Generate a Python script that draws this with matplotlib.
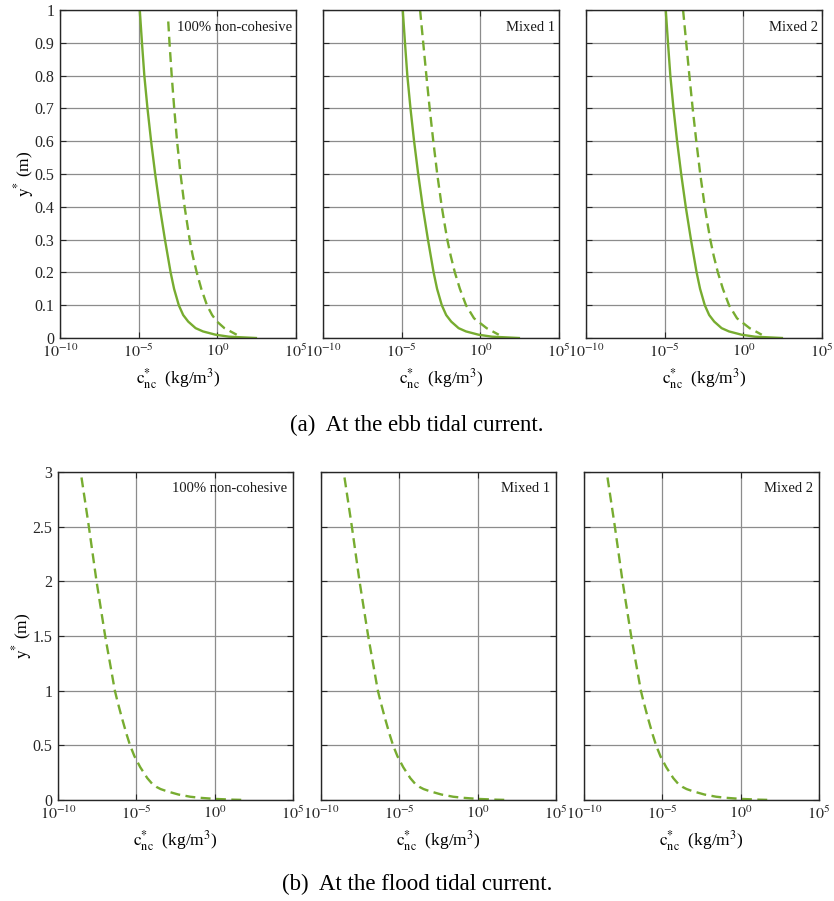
import numpy as np
import matplotlib
matplotlib.use("Agg")
import matplotlib.pyplot as plt

plt.rcParams['font.family'] = ['Liberation Serif', 'DejaVu Serif']
plt.rcParams['mathtext.fontset'] = 'stix'

### Concentration profiles, log10(c*) against height y*
# ebb tide, solid profile (same in all three panels)
ebb_y_solid = [1.0, 0.9, 0.8, 0.7, 0.6, 0.5, 0.4, 0.3, 0.2, 0.15, 0.1, 0.07, 0.05, 0.03,
               0.02, 0.01, 0.004, 0.0]
ebb_logc_solid = [-4.93, -4.79, -4.64, -4.44, -4.21, -3.95, -3.66, -3.33, -2.97, -2.75,
                  -2.45, -2.17, -1.85, -1.38, -0.91, -0.11, 0.74, 2.45]

# ebb tide, dashed profile for 100% non-cohesive
ebb_y_dash_a = [0.965, 0.9, 0.8, 0.7, 0.6, 0.5, 0.4, 0.3, 0.25, 0.2, 0.15, 0.1, 0.07, 0.05,
                0.03, 0.01]
ebb_logc_dash_a = [-3.12, -3.04, -2.90, -2.74, -2.56, -2.34, -2.08, -1.76, -1.56, -1.31,
                   -1.02, -0.66, -0.33, -0.02, 0.45, 1.23]

# ebb tide, dashed profile for the mixed beds
ebb_y_dash_b = [1.0, 0.9, 0.8, 0.7, 0.6, 0.5, 0.4, 0.35, 0.3, 0.25, 0.2, 0.15, 0.1, 0.06,
                0.03, 0.01]
ebb_logc_dash_b = [-3.83, -3.63, -3.43, -3.22, -2.99, -2.74, -2.45, -2.28, -2.10, -1.88,
                   -1.62, -1.30, -0.91, -0.40, 0.40, 1.17]

# flood tide, dashed profile
flood_y = [2.95, 2.5, 2.0, 1.5, 1.0, 0.9, 0.75, 0.6, 0.5, 0.4, 0.3, 0.2, 0.15, 0.12, 0.1,
           0.08, 0.05, 0.03, 0.02, 0.01, 0.003, 0.0]
flood_logc = [-8.50, -8.03, -7.54, -6.99, -6.37, -6.20, -5.92, -5.62, -5.40, -5.12, -4.75,
              -4.30, -4.00, -3.72, -3.45, -3.05, -2.31, -1.57, -0.93, 0.02, 1.19, 2.03]

panel_names = ['100% non-cohesive', 'Mixed 1', 'Mixed 2']
xtick_exp = [-10, -5, 0, 5]
ebb_yticks = np.round(np.arange(0, 1.01, 0.1), 1)
flood_yticks = np.arange(0, 3.01, 0.5)

green = '#77AC30'
lw = 1.7
dash = (4.2, 2.3)

fig = plt.figure(figsize=(8.34, 9.01), dpi=100)
W, H = 834.0, 901.0


def make_ax(left, top, width, height):
    return fig.add_axes([left / W, 1 - (top + height) / H, width / W, height / H])


def style_ax(ax, yticks, ymax, first):
    ax.set_xscale('log')
    ax.set_xlim(1e-10, 1e5)
    ax.set_ylim(0, ymax)
    ax.set_xticks([10.0 ** e for e in xtick_exp])
    ax.set_xticklabels(['$10^{%d}$' % e for e in xtick_exp])
    ax.minorticks_off()
    ax.set_yticks(yticks)
    if first:
        ax.set_yticklabels(['%g' % v for v in yticks])
        ax.set_ylabel(r'$\mathrm{y}^{*}$ (m)', fontsize=12.5, labelpad=-1)
    else:
        ax.set_yticklabels([])
    ax.grid(True, color='#8c8c8c', linewidth=0.9)
    ax.set_axisbelow(True)
    ax.tick_params(direction='in', top=True, right=True, length=4, width=0.8,
                   labelsize=11.5, colors='#262626', labelcolor='#262626', pad=4)
    for s in ax.spines.values():
        s.set_color('#262626')
        s.set_linewidth(1.0)
    ax.set_xlabel(r'$\mathrm{c}_{\mathrm{nc}}^{*}$  (kg/m$^3$)', fontsize=12.5, labelpad=4)


### (a) ebb tidal current
top_lefts = [60, 323, 586]
for i, left in enumerate(top_lefts):
    ax = make_ax(left, 10, 236, 328)
    ax.plot(10.0 ** np.array(ebb_logc_solid), ebb_y_solid, color=green, lw=lw)
    if i == 0:
        ax.plot(10.0 ** np.array(ebb_logc_dash_a), ebb_y_dash_a, color=green, lw=lw,
                dashes=dash)
    else:
        ax.plot(10.0 ** np.array(ebb_logc_dash_b), ebb_y_dash_b, color=green, lw=lw,
                dashes=dash)
    style_ax(ax, ebb_yticks, 1.0, i == 0)
    ax.text(0.985, 0.948, panel_names[i], transform=ax.transAxes, ha='right', va='center',
            fontsize=10.5, color='#1a1a1a')

fig.text(0.5, 1 - 425 / H, '(a)  At the ebb tidal current.', ha='center', va='center',
         fontsize=16.5)

### (b) flood tidal current
bottom_lefts = [58, 321, 584]
for i, left in enumerate(bottom_lefts):
    ax = make_ax(left, 472, 235, 328)
    ax.plot(10.0 ** np.array(flood_logc), flood_y, color=green, lw=lw, dashes=dash)
    style_ax(ax, flood_yticks, 3.0, i == 0)
    ax.text(0.975, 0.95, panel_names[i], transform=ax.transAxes, ha='right', va='center',
            fontsize=10.5, color='#1a1a1a')

fig.text(0.5, 1 - 884 / H, '(b)  At the flood tidal current.', ha='center', va='center',
         fontsize=16.5)

plt.savefig('out.png', dpi=100)
